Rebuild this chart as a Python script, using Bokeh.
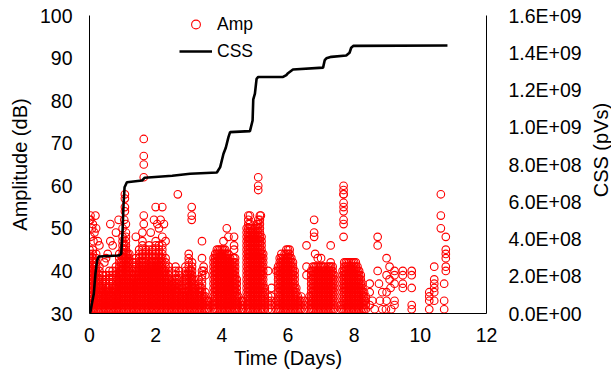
import math
from bokeh.plotting import figure
from bokeh.layouts import row
from bokeh.models import Range1d, LinearAxis, FixedTicker, Legend, LegendItem
from bokeh.core.properties import value
from bokeh.embed import file_html
from bokeh.resources import INLINE

# ---------------- data ----------------
# dense AE hit stacks: time (days) and the top amplitude (dB) of each stack
stack_t = [0.00,0.05,0.10,0.15,0.20,0.25,0.30,0.35,0.40,0.45,0.50,0.55,0.60,0.65,0.70,0.75,0.80,0.85,0.90,0.95,
           1.00,1.05,1.10,1.15,1.20,1.25,1.30,1.35,1.40,1.45,1.50,1.55,1.60,1.65,1.70,1.75,1.80,1.85,1.90,1.95,
           2.00,2.05,2.10,2.15,2.20,2.25,2.30,2.35,2.40,2.45,2.50,2.55,2.60,2.65,2.70,2.75,2.80,2.85,2.90,2.95,
           3.00,3.05,3.10,3.15,3.20,3.25,3.30,3.35,3.40,3.45,3.50,3.55,3.60,
           3.75,3.80,3.85,3.90,3.95,4.00,4.05,4.10,4.15,4.20,4.25,4.30,4.35,4.40,4.45,4.50,
           4.60,4.65,
           4.75,4.80,4.85,4.90,4.95,5.00,5.05,5.10,5.15,5.20,5.25,5.30,
           5.40,5.50,5.65,
           5.70,5.75,5.80,5.85,5.90,5.95,6.00,6.05,6.10,6.15,6.20,6.25,6.30,6.35,6.40,
           6.50,6.65,
           6.70,6.75,6.80,6.85,6.90,6.95,7.00,7.05,7.10,7.15,7.20,7.25,7.30,7.35,7.40,
           7.60,7.65,7.70,7.75,7.80,7.85,7.90,7.95,8.00,8.05,8.10,8.15,8.20,8.25,8.30,8.35]
stack_top = [45,40,45,42,44,38,41,36,39,35,39,36,40,35,40,36,41,38,44,42,
             48,46,49,44,44,38,42,38,43,40,45,42,47,42,45,40,46,42,45,42,
             47,42,46,43,46,40,43,38,41,36,38,37,41,38,40,34,36,35,41,39,
             44,40,42,38,36,34,38,36,40,34,35,33,33,
             43,44,45,45,45,45,45,45,44,44,43,42,43,41,38,34,
             33,33,
             50,53,51,50,49,50,51,52,53,48,44,36,
             34,33,33,
             41,43,44,43,44,45,45,44,43,42,40,36,34,33,34,
             33,34,
             40,41,41,41,41,41,41,41,41,40,41,41,41,41,39,
             32,40,42,42,42,42,42,42,42,42,41,40,39,37,35,34]
stack_floor = 31

# isolated AE hits: time (days), amplitude (dB)
hit_t = [0.00,0.03,0.03,0.18,0.10,0.03,0.15,0.25,0.20,0.08,0.30,0.12,
         0.63,0.63,0.55,0.88,0.80,0.70,0.50,0.45,
         1.07,1.07,1.07,1.07,1.05,1.10,1.00,
         1.64,1.64,1.64,1.64,1.64,1.64,1.60,1.40,
         2.00,2.20,1.95,2.05,2.15,2.25,2.20,2.10,2.30,1.85,
         2.67,3.09,3.09,3.09,3.40,3.40,3.45,3.45,3.50,
         4.15,4.05,4.20,4.37,4.37,4.37,4.40,4.40,
         5.10,5.10,5.10,4.85,5.18,
         5.40,5.65,5.50,5.50,5.50,
         6.05,6.56,6.56,6.56,
         6.79,6.79,6.79,6.82,6.90,7.00,7.29,7.29,
         7.68,7.68,7.68,7.68,7.68,7.68,7.68,7.68,7.68,7.68,
         8.47,8.47,8.47,8.55,8.62,8.71,8.71,8.71,8.75,8.78,8.85,8.85,
         8.98,8.98,8.98,8.98,8.96,9.07,9.07,9.10,9.12,
         9.22,9.22,9.22,9.22,9.22,
         9.47,9.47,9.47,9.47,
         9.74,9.74,9.74,9.74,9.74,
         10.27,10.27,10.27,10.27,
         10.42,10.42,10.42,10.42,10.42,10.42,
         10.62,10.62,10.62,
         10.77,10.77,10.77,10.77,10.77,10.77,
         10.72,10.72,10.72]
hit_a = [52,53,52,53,51,48,49,47,50,50,46,47,
         51,47,44,52,49,46,43,42,
         58,57,55,54,52,51,50,
         71,67,65,62,53,51,49,48,
         55,55,52,51,52,51,48,50,47,49,
         58,55,53,52,47,43,41,40,39,
         50,47,48,48,46,45,43,42,
         62,60,59,53,53,
         40,40,36,34,32,
         45,46,41,39,
         52,49,48,44,43,43,46,42,
         60,59,58,58,56,55,54,52,51,48,
         37,35,32,33,31,48,46,40,37,33,31,35,
         43,39,35,33,31,41,38,36,31,
         40,39,37,33,32,
         40,39,37,36,
         40,39,36,32,31,
         35,34,33,31,
         41,38,37,36,35,33,
         58,53,50,
         48,45,44,43,41,40,
         37,33,31]

# cumulative signal strength: time (days), CSS (pVs)
css_t = [0.00,0.03,0.08,0.13,0.18,0.23,0.28,0.88,0.96,1.00,1.03,1.06,1.13,1.59,1.67,2.50,3.04,3.85,
         3.95,4.05,4.12,4.20,4.25,4.85,4.93,4.95,5.00,5.05,5.10,5.85,5.95,6.00,6.15,7.06,7.11,7.16,
         7.31,7.76,7.86,7.91,7.98,10.82]
css_v = [0.0,1.0e7,6.0e7,1.06e8,2.15e8,2.85e8,3.06e8,3.11e8,3.2e8,4.46e8,5.89e8,6.78e8,7.05e8,7.14e8,7.29e8,7.4e8,7.5e8,7.57e8,
         7.86e8,8.58e8,8.9e8,9.47e8,9.74e8,9.79e8,1.036e9,1.15e9,1.18e9,1.26e9,1.27e9,1.27e9,1.28e9,1.29e9,1.31e9,1.32e9,1.36e9,1.37e9,
         1.378e9,1.385e9,1.40e9,1.427e9,1.437e9,1.439e9]

x_ticks = [0, 2, 4, 6, 8, 10, 12]
amp_ticks = [30, 40, 50, 60, 70, 80, 90, 100]
css_ticks = [0, 200000000, 400000000, 600000000, 800000000, 1000000000, 1200000000, 1400000000, 1600000000]
css_tick_labels = ["0.0E+00", "2.0E+08", "4.0E+08", "6.0E+08", "8.0E+08", "1.0E+09", "1.2E+09", "1.4E+09", "1.6E+09"]
css_title = "CSS (pVs)"

# expand stacks into individual hits (amplitudes are whole dB)
amp_t, amp_a = [], []
for t, top in zip(stack_t, stack_top):
    for a in range(stack_floor, top + 1):
        amp_t.append(t)
        amp_a.append(a)
amp_t += hit_t
amp_a += hit_a

# ---------------- figure ----------------
FONT = "Liberation Sans"
TXT = "#000000"

p = figure(width=590, height=372, output_backend="svg", toolbar_location=None,
           x_range=Range1d(0, 12), y_range=Range1d(30, 100),
           min_border_left=89, min_border_right=104, min_border_top=15, min_border_bottom=59)
p.extra_y_ranges = {"css": Range1d(0, 1.6e9)}
p.outline_line_color = None
p.xgrid.visible = False
p.ygrid.visible = False
p.background_fill_color = "white"
p.border_fill_color = "white"

r_amp = p.scatter(amp_t, amp_a, marker="circle", size=7.6, fill_color=None,
                  line_color="#FF0000", line_width=1.1)
r_css = p.line(css_t, css_v, y_range_name="css", line_color="#000000", line_width=2.6)

def style(ax, ticks, standoff, title_standoff):
    ax.ticker = FixedTicker(ticks=ticks)
    ax.major_tick_line_color = None
    ax.minor_tick_line_color = None
    ax.major_tick_out = 0
    ax.major_tick_in = 0
    ax.axis_line_color = "#000000"
    ax.axis_line_width = 1
    ax.major_label_text_font = FONT
    ax.major_label_text_font_size = "19.5px"
    ax.major_label_text_color = TXT
    ax.major_label_standoff = standoff
    ax.axis_label_text_font = FONT
    ax.axis_label_text_font_size = "20px"
    ax.axis_label_text_font_style = "normal"
    ax.axis_label_text_color = TXT
    ax.axis_label_standoff = title_standoff

xa = p.xaxis[0]
style(xa, x_ticks, 14, 2)
xa.axis_label = "Time (Days)"

ya = p.yaxis[0]
style(ya, amp_ticks, 17, 6)
ya.axis_label = "Amplitude (dB)"

ra = LinearAxis(y_range_name="css")
style(ra, css_ticks, 22, 5)
ra.major_label_overrides = dict(zip(css_ticks, css_tick_labels))
p.add_layout(ra, "right")

legend = Legend(items=[LegendItem(label="Amp", renderers=[r_amp]),
                       LegendItem(label="CSS", renderers=[r_css])],
                location=(90, 251), orientation="vertical")
legend.border_line_color = None
legend.background_fill_alpha = 0
legend.padding = 0
legend.margin = 0
legend.spacing = 5
legend.glyph_width = 33
legend.glyph_height = 22
legend.label_height = 22
legend.label_standoff = 5
legend.label_text_font = FONT
legend.label_text_font_size = "17.5px"
legend.label_text_color = TXT
legend.label_text_baseline = "middle"
p.add_layout(legend)

# narrow strip on the right carrying the right-axis title, reading bottom-to-top
pt = figure(width=21, height=372, output_backend="svg", toolbar_location=None,
            x_range=Range1d(0, 1), y_range=Range1d(0, 372),
            x_axis_type=None, y_axis_type=None,
            min_border_left=0, min_border_right=0, min_border_top=0, min_border_bottom=0)
pt.outline_line_color = None
pt.xgrid.visible = False
pt.ygrid.visible = False
pt.background_fill_color = "white"
pt.border_fill_color = "white"
pt.text(x=[0.5], y=[204], text=[css_title], angle=math.pi / 2,
        text_align="center", text_baseline="middle",
        text_font=value(FONT), text_font_size=value("20px"), text_color=TXT)

layout = row(p, pt, spacing=0)
open("out.html", "w").write(file_html(layout, INLINE))
